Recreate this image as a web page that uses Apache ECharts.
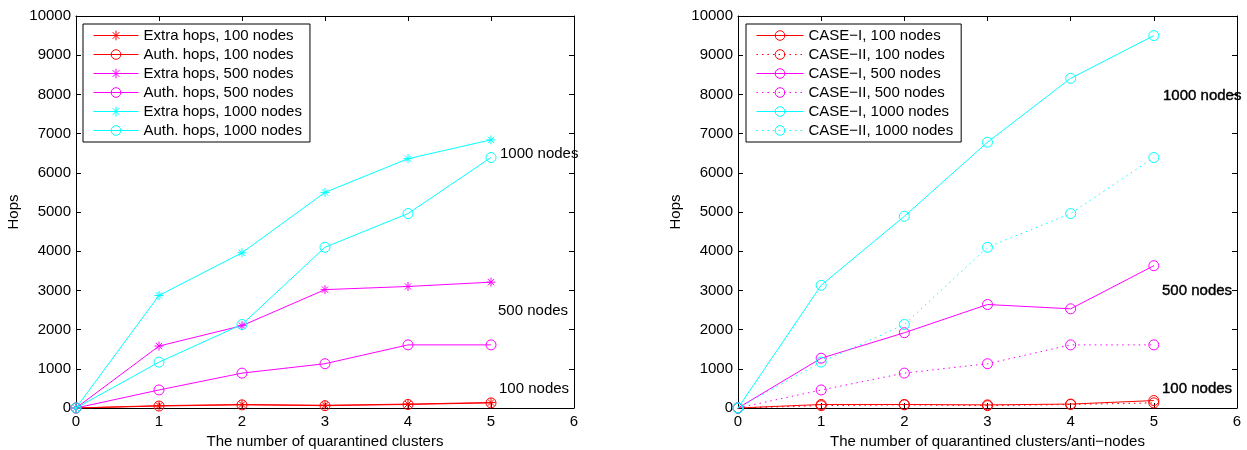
<!DOCTYPE html>
<html>
<head>
<meta charset="utf-8">
<script src="https://cdn.jsdelivr.net/npm/echarts@6/dist/echarts.min.js"></script>
<style>
  html, body { margin: 0; padding: 0; background: #fff; }
  #chart { width: 1247px; height: 450px; }
</style>
</head>
<body>
<div id="chart"></div>
<script>
// x positions: number of quarantined clusters (or anti-nodes)
const clusters = [0, 1, 2, 3, 4, 5];

// Left panel: extra hops vs. authentication hops
const extraHops100  = [0, 60, 90, 70, 100, 140];
const authHops100   = [0, 50, 80, 60, 90, 130];
const extraHops500  = [0, 1580, 2100, 3020, 3100, 3210];
const authHops500   = [0, 460, 890, 1130, 1610, 1610];
const extraHops1000 = [0, 2870, 3960, 5500, 6360, 6840];
const authHops1000  = [0, 1170, 2130, 4100, 4960, 6390];

// Right panel: CASE-I vs. CASE-II
const caseI100   = [0, 90, 90, 80, 100, 190];
const caseII100  = [0, 60, 80, 60, 90, 130];
const caseI500   = [0, 1270, 1920, 2640, 2530, 3630];
const caseII500  = [0, 460, 890, 1130, 1610, 1610];
const caseI1000  = [0, 3130, 4890, 6780, 8410, 9500];
const caseII1000 = [0, 1170, 2130, 4100, 4960, 6390];

const FONT = '"Liberation Sans", Arial, Helvetica, sans-serif';
const RED = '#ff0000', MAG = '#ff00ff', CYAN = '#00ffff';
const STAR = 'path://M5 0L5 10M0 5L10 5M1.5 1.5L8.5 8.5M1.5 8.5L8.5 1.5';

function pairs(ys) { return clusters.map((x, i) => [x, ys[i]]); }

function lineSeries(name, ys, color, marker, dotted, idx) {
  const isStar = marker === 'star';
  return {
    name: name,
    type: 'line',
    xAxisIndex: idx,
    yAxisIndex: idx,
    data: pairs(ys),
    symbol: isStar ? STAR : 'circle',
    symbolSize: isStar ? 9 : 10,
    showSymbol: true,
    silent: true,
    animation: false,
    lineStyle: { color: color, width: 1, type: dotted ? [1.5, 4] : 'solid' },
    itemStyle: { color: 'rgba(0,0,0,0)', borderColor: color, borderWidth: 1 },
    emphasis: { disabled: true }
  };
}

function xAxes(grid, title) {
  const common = {
    type: 'value', gridIndex: grid, min: 0, max: 6, interval: 1,
    splitLine: { show: false },
    axisLine: { show: true, onZero: false, lineStyle: { color: '#000', width: 1 } },
    axisTick: { show: true, inside: true, length: 5, lineStyle: { color: '#000' } }
  };
  return [
    Object.assign({}, common, {
      position: 'bottom',
      axisLabel: { color: '#000', fontSize: 15, fontFamily: FONT, margin: 6 },
      name: title, nameLocation: 'middle', nameGap: 23,
      nameTextStyle: { color: '#000', fontSize: 15, fontFamily: FONT }
    }),
    Object.assign({}, common, { position: 'top', axisLabel: { show: false } })
  ];
}

function yAxes(grid) {
  const common = {
    type: 'value', gridIndex: grid, min: 0, max: 10000, interval: 1000,
    splitLine: { show: false },
    axisLine: { show: true, onZero: false, lineStyle: { color: '#000', width: 1 } },
    axisTick: { show: true, inside: true, length: 5, lineStyle: { color: '#000' } }
  };
  return [
    Object.assign({}, common, {
      position: 'left',
      axisLabel: { color: '#000', fontSize: 15, fontFamily: FONT, margin: 5,
                   formatter: v => String(v) },
      name: 'Hops', nameLocation: 'middle', nameGap: 55, nameRotate: 90,
      nameTextStyle: { color: '#000', fontSize: 15, fontFamily: FONT }
    }),
    Object.assign({}, common, { position: 'right', axisLabel: { show: false } })
  ];
}

const xa = xAxes(0, 'The number of quarantined clusters')
  .concat(xAxes(1, 'The number of quarantined clusters/anti\u2212nodes'));
const ya = yAxes(0).concat(yAxes(1));

const leftSeries = [
  lineSeries('Extra hops, 100 nodes',  extraHops100,  RED,  'star',   false, 0),
  lineSeries('Auth. hops, 100 nodes',  authHops100,   RED,  'circle', false, 0),
  lineSeries('Extra hops, 500 nodes',  extraHops500,  MAG,  'star',   false, 0),
  lineSeries('Auth. hops, 500 nodes',  authHops500,   MAG,  'circle', false, 0),
  lineSeries('Extra hops, 1000 nodes', extraHops1000, CYAN, 'star',   false, 0),
  lineSeries('Auth. hops, 1000 nodes', authHops1000,  CYAN, 'circle', false, 0)
];
const rightSeries = [
  lineSeries('CASE\u2212I, 100 nodes',   caseI100,   RED,  'circle', false, 2),
  lineSeries('CASE\u2212II, 100 nodes',  caseII100,  RED,  'circle', true,  2),
  lineSeries('CASE\u2212I, 500 nodes',   caseI500,   MAG,  'circle', false, 2),
  lineSeries('CASE\u2212II, 500 nodes',  caseII500,  MAG,  'circle', true,  2),
  lineSeries('CASE\u2212I, 1000 nodes',  caseI1000,  CYAN, 'circle', false, 2),
  lineSeries('CASE\u2212II, 1000 nodes', caseII1000, CYAN, 'circle', true,  2)
];

function legend(names, left, itemWidth) {
  return {
    data: names,
    orient: 'vertical',
    left: left, top: 24,
    itemWidth: itemWidth, itemHeight: 12, itemGap: 4,
    padding: [4, 8, 4, 10],
    backgroundColor: '#fff',
    borderColor: '#000', borderWidth: 1,
    selectedMode: false,
    lineStyle: { width: 1 },
    itemStyle: { borderWidth: 1 },
    textStyle: { color: '#000', fontSize: 15, fontFamily: FONT, lineHeight: 15 },
    z: 10
  };
}

function note(text, x, y, heavy) {
  return {
    type: 'text', x: x, y: y, z: 20,
    style: {
      text: text, fill: '#000', font: '15px ' + FONT,
      textVerticalAlign: 'middle',
      stroke: heavy ? '#000' : null, lineWidth: heavy ? 0.4 : 0
    }
  };
}

const chart = echarts.init(document.getElementById('chart'), null, { renderer: 'canvas' });
chart.setOption({
  backgroundColor: '#fff',
  animation: false,
  grid: [
    { left: 76, top: 16, width: 498, height: 392, containLabel: false, outerBoundsMode: 'none' },
    { left: 738, top: 16, width: 499, height: 392, containLabel: false, outerBoundsMode: 'none' }
  ],
  xAxis: xa,
  yAxis: ya,
  legend: [
    legend(leftSeries.map(s => s.name), 83, 45),
    legend(rightSeries.map(s => s.name), 746, 47)
  ],
  series: leftSeries.concat(rightSeries),
  graphic: [
    note('1000 nodes', 500, 154, false),
    note('500 nodes', 498, 311, false),
    note('100 nodes', 499, 389, false),
    note('1000 nodes', 1163, 96, true),
    note('500 nodes', 1162, 291, true),
    note('100 nodes', 1162, 389, true)
  ]
});
</script>
</body>
</html>
